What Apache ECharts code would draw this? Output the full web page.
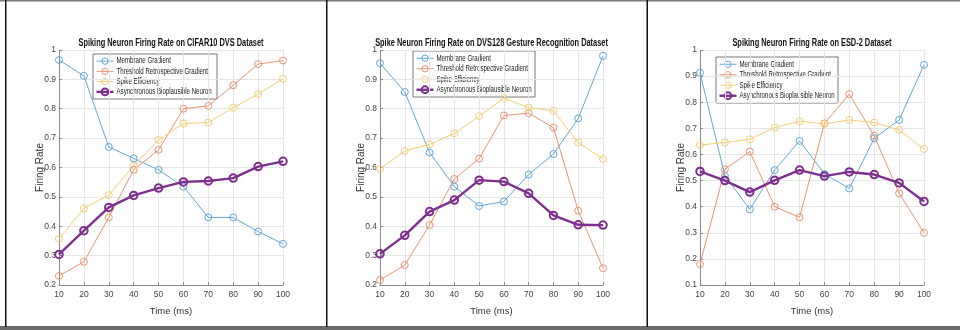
<!DOCTYPE html>
<html>
<head>
<meta charset="utf-8">
<script src="https://cdn.jsdelivr.net/npm/echarts@6/dist/echarts.min.js"></script>
<style>
html,body{margin:0;padding:0;background:#fff;}
#main{width:960px;height:330px;}
</style>
</head>
<body>
<div id="main"></div>
<script>
// ---- data ----
var times = [10, 20, 30, 40, 50, 60, 70, 80, 90, 100];
var seriesNames = ['Membrane Gradient', 'Threshold Retrospective Gradient', 'Spike Efficiency', 'Asynchronous Bioplausible Neuron'];
var titles = [
  'Spiking Neuron Firing Rate on CIFAR10 DVS Dataset',
  'Spike Neuron Firing Rate on DVS128 Gesture Recognition Dataset',
  'Spiking Neuron Firing Rate on ESD-2 Dataset'
];
var xAxisName = 'Time (ms)';
var yAxisName = 'Firing Rate';
var yMins = [0.2, 0.2, 0.1];
var yMax = 1;

// CIFAR10 DVS
var cifarMembrane  = [0.966, 0.912, 0.670, 0.631, 0.592, 0.535, 0.430, 0.430, 0.382, 0.340];
var cifarThreshold = [0.231, 0.279, 0.430, 0.592, 0.660, 0.800, 0.810, 0.880, 0.952, 0.964];
var cifarSpikeEff  = [0.357, 0.461, 0.506, 0.606, 0.694, 0.750, 0.753, 0.804, 0.850, 0.902];
var cifarABN       = [0.304, 0.385, 0.464, 0.505, 0.530, 0.551, 0.554, 0.564, 0.603, 0.621];

// DVS128 Gesture
var dvsMembrane  = [0.955, 0.857, 0.651, 0.535, 0.469, 0.484, 0.576, 0.646, 0.767, 0.980];
var dvsThreshold = [0.217, 0.268, 0.404, 0.561, 0.630, 0.777, 0.785, 0.736, 0.453, 0.257];
var dvsSpikeEff  = [0.595, 0.656, 0.679, 0.716, 0.775, 0.836, 0.804, 0.793, 0.685, 0.629];
var dvsABN       = [0.306, 0.369, 0.450, 0.489, 0.557, 0.552, 0.512, 0.437, 0.405, 0.404];

// ESD-2
var esdMembrane  = [0.913, 0.518, 0.390, 0.540, 0.652, 0.525, 0.470, 0.662, 0.732, 0.943];
var esdThreshold = [0.180, 0.543, 0.611, 0.400, 0.359, 0.719, 0.831, 0.671, 0.451, 0.300];
var esdSpikeEff  = [0.636, 0.646, 0.658, 0.703, 0.727, 0.717, 0.732, 0.722, 0.694, 0.621];
var esdABN       = [0.535, 0.500, 0.456, 0.501, 0.540, 0.517, 0.533, 0.523, 0.491, 0.420];

var panels = [
  [cifarMembrane, cifarThreshold, cifarSpikeEff, cifarABN],
  [dvsMembrane, dvsThreshold, dvsSpikeEff, dvsABN],
  [esdMembrane, esdThreshold, esdSpikeEff, esdABN]
];

// ---- styling / layout ----
var FONT = "'Liberation Sans', Arial, sans-serif";
var colors = ['#62a8d9', '#e89473', '#f4cf74', '#7e2f8e'];
var grids = [
  {left: 59, top: 50, width: 224, height: 235},
  {left: 380, top: 50, width: 223, height: 235},
  {left: 700, top: 50, width: 224, height: 235}
];
var legendBoxes = [
  {left: 93, top: 54, width: 124, height: 45},
  {left: 413, top: 51, width: 122, height: 46},
  {left: 716, top: 57, width: 122, height: 46}
];
var SQUEEZE = 0.74;

var graphic = [
  {type: 'rect', shape: {x: 0, y: 0, width: 960, height: 1.5}, style: {fill: '#7a7a7a'}, silent: true},
  {type: 'rect', shape: {x: 0, y: 326, width: 960, height: 4}, style: {fill: '#6a6a6a'}, silent: true},
  {type: 'rect', shape: {x: 5, y: 0, width: 1.5, height: 327}, style: {fill: '#111'}, silent: true},
  {type: 'rect', shape: {x: 326, y: 0, width: 1.5, height: 327}, style: {fill: '#111'}, silent: true},
  {type: 'rect', shape: {x: 646.5, y: 0, width: 1.5, height: 327}, style: {fill: '#111'}, silent: true}
];

var option = {
  animation: false,
  backgroundColor: '#fff',
  grid: [], xAxis: [], yAxis: [], series: [],
  graphic: graphic
};

for (var p = 0; p < 3; p++) {
  var g = grids[p];
  // title (horizontally condensed text)
  graphic.push({
    type: 'text', x: g.left + g.width / 2, y: 43.5, scaleX: SQUEEZE, z: 100, silent: true,
    style: {text: titles[p], font: 'bold 10px ' + FONT, fill: '#111',
      align: 'center', verticalAlign: 'middle', textAlign: 'center', textVerticalAlign: 'middle'}
  });
  // legend box
  var lb = legendBoxes[p];
  var legendChildren = [
    {type: 'rect', shape: {x: lb.left, y: lb.top, width: lb.width, height: lb.height},
      style: {fill: '#fff', stroke: '#555', lineWidth: 0.8}}
  ];
  var rowH = (lb.height - 4) / 4;
  for (var k = 0; k < 4; k++) {
    var ry = lb.top + 2 + rowH * (k + 0.5);
    var main = (k === 3);
    legendChildren.push({type: 'line', shape: {x1: lb.left + 3.5, y1: ry, x2: lb.left + 20.5, y2: ry},
      style: {stroke: colors[k], lineWidth: main ? 2.4 : 1}});
    legendChildren.push({type: 'circle', shape: {cx: lb.left + 12, cy: ry, r: main ? 3.4 : 3.2},
      style: {fill: 'none', stroke: colors[k], lineWidth: main ? 2 : 1}});
    legendChildren.push({type: 'text', x: lb.left + 23.5, y: ry, scaleX: 0.72,
      style: {text: seriesNames[k], font: '8.5px ' + FONT, fill: '#222',
        align: 'left', verticalAlign: 'middle', textAlign: 'left', textVerticalAlign: 'middle'}});
  }
  graphic.push({type: 'group', z: 100, silent: true, children: legendChildren});

  option.grid.push({left: g.left, top: g.top, width: g.width, height: g.height, containLabel: false});
  option.xAxis.push({
    type: 'value', gridIndex: p, min: 10, max: 100, interval: 10,
    name: xAxisName, nameLocation: 'middle', nameGap: 21, nameMoveOverlap: false,
    nameTextStyle: {fontFamily: FONT, fontSize: 9.5, color: '#333'},
    axisLine: {show: true, lineStyle: {color: '#8a8a8a', width: 1}},
    axisTick: {show: true, inside: true, length: 3, lineStyle: {color: '#8a8a8a'}},
    axisLabel: {fontFamily: FONT, fontSize: 8.5, color: '#444', margin: 5},
    splitLine: {show: true, lineStyle: {color: '#e6e6e6', width: 1}}
  });
  option.yAxis.push({
    type: 'value', gridIndex: p, min: yMins[p], max: yMax, interval: 0.1,
    name: yAxisName, nameLocation: 'middle', nameGap: 14, nameRotate: 90, nameMoveOverlap: false,
    nameTextStyle: {fontFamily: FONT, fontSize: 10, color: '#333'},
    axisLine: {show: true, lineStyle: {color: '#8a8a8a', width: 1}},
    axisTick: {show: true, inside: true, length: 3, lineStyle: {color: '#8a8a8a'}},
    axisLabel: {fontFamily: FONT, fontSize: 8.5, color: '#444', margin: 3,
      formatter: function (v) { return String(Math.round(v * 10) / 10); }},
    splitLine: {show: true, lineStyle: {color: '#e6e6e6', width: 1}}
  });
  for (var s = 0; s < 4; s++) {
    var vals = panels[p][s];
    var isMain = (s === 3);
    option.series.push({
      name: seriesNames[s],
      type: 'line',
      xAxisIndex: p, yAxisIndex: p,
      data: times.map(function (t, i) { return [t, vals[i]]; }),
      symbol: 'circle',
      symbolSize: isMain ? 7.5 : 7,
      showAllSymbol: true,
      z: isMain ? 5 : 3,
      lineStyle: {color: colors[s], width: isMain ? 2.4 : 1},
      itemStyle: {color: 'rgba(255,255,255,0)', borderColor: colors[s], borderWidth: isMain ? 2 : 1},
      emphasis: {disabled: true}
    });
  }
}

var chart = echarts.init(document.getElementById('main'), null, {renderer: 'canvas'});
chart.setOption(option);
</script>
</body>
</html>
